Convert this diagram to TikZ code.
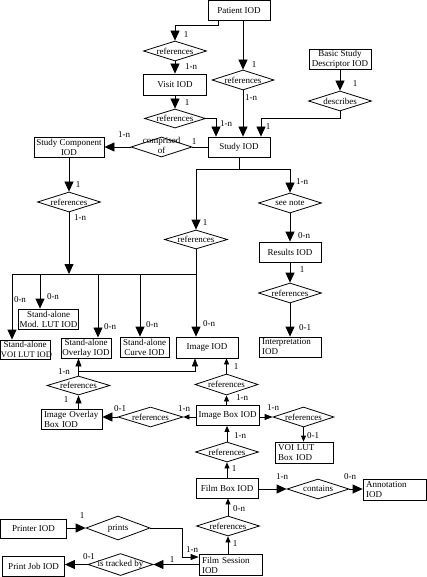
\documentclass[tikz,border=0pt]{standalone}
\usepackage{fontspec}
\setmainfont{Liberation Serif}
\usetikzlibrary{shapes.geometric,arrows.meta}
\newcommand\dtxt[1]{\makebox[0pt]{#1}}
\begin{document}
\begin{tikzpicture}[x=1pt,y=-1pt,
  every node/.style={font=\fontsize{9}{10}\selectfont},
  line width=0.8pt,
  box/.style={draw, inner xsep=1pt, inner ysep=1pt, align=center},
  lbox/.style={draw, inner xsep=3pt, inner ysep=1pt, align=left},
  dia/.style={draw, diamond, shape aspect=3, inner sep=0pt},
  lab/.style={inner sep=0pt},
  big/.style={-{Triangle[width=9pt,length=10pt]}},
  med/.style={-{Triangle[width=6pt,length=8pt]}},
  sml/.style={-{Triangle[width=5pt,length=6pt]}}]
\useasboundingbox (0,0) rectangle (427,577);

% boxes and diamonds
\node[box, minimum width=62pt, minimum height=20pt] (pat) at (239,10.5) {Patient IOD};
\node[dia, minimum width=63pt, minimum height=20pt] (ref1) at (175,51) {\dtxt{references}};
\node[box, minimum width=63pt, minimum height=21pt] (visit) at (175,84.5) {Visit IOD};
\node[dia, minimum width=61pt, minimum height=19pt] (ref2) at (175,118.5) {\dtxt{references}};
\node[dia, minimum width=62pt, minimum height=20pt] (ref3) at (243,80) {\dtxt{references}};
\node[box, minimum width=62pt, minimum height=20pt] (bsd) at (340,59) {Basic Study\\Descriptor IOD};
\node[dia, minimum width=63pt, minimum height=20pt] (desc) at (340,101) {\dtxt{describes}};
\node[box, minimum width=62pt, minimum height=20pt] (study) at (239,147) {Study IOD};
\node[dia, minimum width=61pt, minimum height=20pt] (comp) at (161.5,147) {\dtxt{\begin{tabular}{@{}c@{}}comprised\\of\end{tabular}}};
\node[box, minimum width=70pt, minimum height=20pt] (scomp) at (69,147) {Study Component\\IOD};
\node[dia, minimum width=63pt, minimum height=20pt] (ref4) at (69,202) {\dtxt{references}};
\node[dia, minimum width=63pt, minimum height=19pt] (ref5) at (196,239.5) {\dtxt{references}};
\node[dia, minimum width=63pt, minimum height=20pt] (seenote) at (290,203) {\dtxt{see note}};
\node[box, minimum width=62pt, minimum height=20pt] (results) at (290,252) {Results IOD};
\node[dia, minimum width=63pt, minimum height=20pt] (ref6) at (290,293) {\dtxt{references}};
\node[lbox, text width=56pt, minimum height=20pt] (interp) at (290,347) {Interpretation\\IOD};

\node[box, minimum width=50pt, minimum height=19pt] (voilut) at (25,349.5) {Stand-alone\\\makebox[48pt][l]{\fontsize{8.5}{10}\selectfont VOI LUT IOD}};
\node[box, minimum width=55pt, minimum height=20pt] (modlut) at (48.5,319) {Stand-alone\\Mod. LUT IOD};
\node[box, minimum width=50pt, minimum height=20pt] (overlay) at (86,348) {Stand-alone\\Overlay IOD};
\node[box, minimum width=49pt, minimum height=20pt] (curve) at (144.5,347) {Stand-alone\\Curve IOD};
\node[box, minimum width=62pt, minimum height=21pt] (image) at (207,347.5) {Image IOD};

\node[dia, minimum width=63pt, minimum height=19pt] (ovref) at (78.5,385.5) {\dtxt{references}};
\node[lbox, text width=55pt, minimum height=20pt] (ovbox) at (71.5,419) {\mbox{Image Overlay}\\Box IOD};
\node[dia, minimum width=65pt, minimum height=20pt] (ovref2) at (150.5,417) {\dtxt{references}};
\node[box, minimum width=63pt, minimum height=20pt] (ibox) at (227.5,415.5) {Image Box IOD};
\node[dia, minimum width=63pt, minimum height=21pt] (ibref) at (226.5,384.5) {\dtxt{references}};
\node[dia, minimum width=61pt, minimum height=20pt] (voiref) at (303.5,417) {\dtxt{references}};
\node[lbox, text width=52pt, minimum height=21pt] (voibox) at (304,452.5) {VOI LUT\\Box IOD};
\node[dia, minimum width=63pt, minimum height=20pt] (fbref) at (227,452) {\dtxt{references}};
\node[box, minimum width=62pt, minimum height=20pt] (fbox) at (227,488) {Film Box IOD};
\node[dia, minimum width=62pt, minimum height=20pt] (contains) at (318,489) {\dtxt{contains}};
\node[lbox, text width=57pt, minimum height=21pt] (annot) at (394.5,489.5) {Annotation\\IOD};
\node[dia, minimum width=63pt, minimum height=20pt] (fsref) at (228,526) {\dtxt{references}};
\node[lbox, text width=57pt, minimum height=21pt] (fsess) at (230.5,565) {Film Session\\IOD};
\node[box, minimum width=66pt, minimum height=19pt] (printer) at (33.5,528.5) {Printer IOD};
\node[dia, minimum width=64pt, minimum height=24pt] (prints) at (118,528) {\dtxt{prints}};
\node[box, minimum width=62pt, minimum height=20pt] (pjob) at (33.5,566.5) {Print Job IOD};
\node[dia, minimum width=65pt, minimum height=22pt] (track) at (120.5,564.5) {\dtxt{is tracked by}};

% connectors
\draw[big] ([xshift=-21pt]pat.south) -- ++(0,5) -| (ref1.north);
\draw[big] (ref1.south) -- (visit.north);
\draw[big] (visit.south) -- (ref2.north);
\draw[big] (ref2.east) -| ([xshift=-23pt]study.north);
\draw[big] (ref3.north |- pat.south) -- (ref3.north);
\draw[big] (ref3.south) -- (ref3.south |- study.north);
\draw[big] (bsd.south) -- (desc.north);
\draw[big] (desc.south) -- ++(0,7) -| ([xshift=22pt]study.north);
\draw (study.west) -- (comp.east);
\draw[big] (comp.west) -- (scomp.east);
\draw[big] (scomp.south) -- (ref4.north);

\coordinate (busL) at (12,274);
\coordinate (busR) at (196,274);
\coordinate (b2) at (40,274);
\coordinate (b3) at (98,274);
\coordinate (b4) at (140,274);
\draw[big] (ref4.south) -- (ref4.south |- busL);
\draw (busL) -- (busR);
\draw[big] (busL) -- (busL |- voilut.north);
\draw[big] (b2) -- (b2 |- modlut.north);
\draw[big] (b3) -- (b3 |- overlay.north);
\draw[big] (b4) -- (b4 |- curve.north);

\coordinate (j) at (239,169);
\draw (study.south) -- (j);
\draw[big] (j) -| (ref5.north);
\draw[big] (j) -| (seenote.north);
\draw[big] (ref5.south) -- (ref5.south |- image.north);
\draw[big] (seenote.south) -- (results.north);
\draw[big] (results.south) -- (ref6.north);
\draw[big] (ref6.south) -- (interp.north);

\coordinate (ov) at (78.5,371);
\draw[med] (ovref.north) -- (ovref.north |- overlay.south);
\draw[med] (ov) -| ([xshift=-12pt]image.south);
\draw[med] (ovref.south |- ovbox.north) -- (ovref.south);
\draw[big] (ovref2.west) -- (ovref2.west -| ovbox.east);
\draw[sml] (ibox.west |- ovref2.east) -- (ovref2.east);
\draw[sml] (ibref.north) -- (ibref.north |- image.south);
\draw[sml] (ibref.south |- ibox.north) -- (ibref.south);
\draw[med] (ibox.east |- voiref.west) -- (voiref.west);
\draw[sml] (voiref.south) -- (voiref.south |- voibox.north);
\draw[sml] (fbref.north) -- (fbref.north |- ibox.south);
\draw[sml] (fbref.south |- fbox.north) -- (fbref.south);
\draw[big] (fbox.east |- contains.west) -- (contains.west);
\draw[big] (contains.east) -- (contains.east -| annot.west);
\draw[sml] (fsref.north) -- (fsref.north |- fbox.south);
\draw[sml] (fsref.south |- fsess.north) -- (fsref.south);
\draw[big] (printer.east |- prints.west) -- (prints.west);
\coordinate (pk) at (182,557);
\draw[med] (prints.east) -| (pk) -- (pk -| fsess.west);
\draw[big] (fsess.west |- track.east) -- (track.east);
\draw[big] (track.west) -- (track.west -| pjob.east);

% cardinality labels
\node[lab] (l1) at (186,35) {1};
\node[lab] (l2) at (191,67) {1-n};
\node[lab] (l3) at (187,103) {1};
\node[lab] (l4) at (226,124) {1-n};
\node[lab] (l5) at (254,65) {1};
\node[lab] (l6) at (251,98) {1-n};
\node[lab] (l7) at (355,84) {1};
\node[lab] (l8) at (268,127) {1};
\node[lab] (l9) at (194,142) {1};
\node[lab] (l10) at (124,135) {1-n};
\node[lab] (l11) at (78,185) {1};
\node[lab] (l12) at (302,182) {1-n};
\node[lab] (l13) at (80,218) {1-n};
\node[lab] (l14) at (205,223) {1};
\node[lab] (l15) at (304,236) {0-n};
\node[lab] (l16) at (302,270) {1};
\node[lab] (l17) at (305,328) {0-1};
\node[lab] (l18) at (20,300) {0-n};
\node[lab] (l19) at (53,297) {0-n};
\node[lab] (l20) at (110,327) {0-n};
\node[lab] (l21) at (152,325) {0-n};
\node[lab] (l22) at (209,324) {0-n};
\node[lab] (l23) at (64,372) {1-n};
\node[lab] (l24) at (236,367) {1};
\node[lab] (l25) at (66,400) {1};
\node[lab] (l26) at (120,409) {0-1};
\node[lab] (l27) at (184,409) {1-n};
\node[lab] (l28) at (242,398) {1-n};
\node[lab] (l29) at (273,408) {1-n};
\node[lab] (l30) at (313,436) {0-1};
\node[lab] (l31) at (240,436) {1-n};
\node[lab] (l32) at (234,469) {1};
\node[lab] (l33) at (282,477) {1-n};
\node[lab] (l34) at (350,477) {0-n};
\node[lab] (l35) at (239,509) {0-n};
\node[lab] (l36) at (235,544) {1};
\node[lab] (l37) at (82,516) {1};
\node[lab] (l38) at (192,550) {1-n};
\node[lab] (l39) at (172,560) {1};
\node[lab] (l40) at (89,557) {0-1};
\end{tikzpicture}
\end{document}
